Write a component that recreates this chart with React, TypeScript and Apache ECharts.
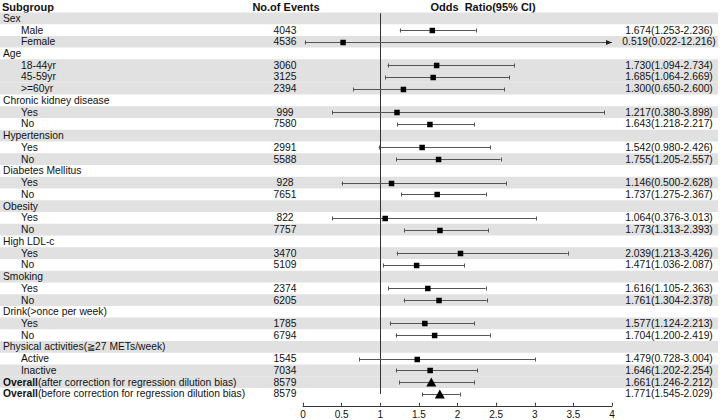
import React, { useEffect, useRef } from "react";
import * as echarts from "echarts";

// ---------- data ----------
const subgroups: string[] = [
  "Sex", "Male", "Female",
  "Age", "18-44yr", "45-59yr", ">=60yr",
  "Chronic kidney disease", "Yes", "No",
  "Hypertension", "Yes", "No",
  "Diabetes Mellitus", "Yes", "No",
  "Obesity", "Yes", "No",
  "High LDL-c", "Yes", "No",
  "Smoking", "Yes", "No",
  "Drink(>once per week)", "Yes", "No",
  "Physical activities(≧27 METs/week)", "Active", "Inactive",
  "(after correction for regression dilution bias)",
  "(before correction for regression dilution bias)",
];
const boldPrefix: string[] = [
  "", "", "", "", "", "", "", "", "", "", "", "", "", "", "", "", "",
  "", "", "", "", "", "", "", "", "", "", "", "", "", "", "Overall", "Overall",
];
const isSubItem: boolean[] = [
  false, true, true,
  false, true, true, true,
  false, true, true,
  false, true, true,
  false, true, true,
  false, true, true,
  false, true, true,
  false, true, true,
  false, true, true,
  false, true, true,
  false, false,
];
const events: (number | null)[] = [
  null, 4043, 4536,
  null, 3060, 3125, 2394,
  null, 999, 7580,
  null, 2991, 5588,
  null, 928, 7651,
  null, 822, 7757,
  null, 3470, 5109,
  null, 2374, 6205,
  null, 1785, 6794,
  null, 1545, 7034,
  8579, 8579,
];
const oddsRatio: (number | null)[] = [
  null, 1.674, 0.519,
  null, 1.730, 1.685, 1.300,
  null, 1.217, 1.643,
  null, 1.542, 1.755,
  null, 1.146, 1.737,
  null, 1.064, 1.773,
  null, 2.039, 1.471,
  null, 1.616, 1.761,
  null, 1.577, 1.704,
  null, 1.479, 1.646,
  1.661, 1.771,
];
const ciLower: (number | null)[] = [
  null, 1.253, 0.022,
  null, 1.094, 1.064, 0.650,
  null, 0.380, 1.218,
  null, 0.980, 1.205,
  null, 0.500, 1.275,
  null, 0.376, 1.313,
  null, 1.213, 1.036,
  null, 1.105, 1.304,
  null, 1.124, 1.200,
  null, 0.728, 1.202,
  1.246, 1.545,
];
const ciUpper: (number | null)[] = [
  null, 2.236, 12.216,
  null, 2.734, 2.669, 2.600,
  null, 3.898, 2.217,
  null, 2.426, 2.557,
  null, 2.628, 2.367,
  null, 3.013, 2.393,
  null, 3.426, 2.087,
  null, 2.363, 2.378,
  null, 2.213, 2.419,
  null, 3.004, 2.254,
  2.212, 2.029,
];
const markerShape: string[] = subgroups.map((_, i) => (i >= 31 ? "triangle" : "square"));
const shadedRows: number[] = [0, 2, 4, 5, 6, 8, 10, 12, 14, 16, 18, 20, 22, 24, 26, 28, 30, 31];
const xMin = 0;
const xMax = 4;
const xInterval = 0.5;
const headers = { subgroup: "Subgroup", events: "No.of Events", or: "Odds  Ratio(95% CI)" };

// ---------- styles ----------
const FONT = '"Liberation Sans", Arial, Helvetica, sans-serif';
const ROW_FS = 10.3;
const TEXT_COLOR = "#111";
const BAND_COLOR = "#e1e1e1";
const CI_COLOR = "#555";

const fmt = (v: number) => v.toFixed(3);

export default function App() {
  const ref = useRef<HTMLDivElement>(null);

  useEffect(() => {
    if (!ref.current) return;
    const chart = echarts.init(ref.current, undefined, { renderer: "svg" });

    const rowIdx = subgroups.map((_, i) => i);
    const ciRows = rowIdx.filter((i) => oddsRatio[i] !== null);

    const option: any = {
      animation: false,
      backgroundColor: "#fff",
      grid: { left: 303, right: 110, top: 12.4, bottom: 20.2, containLabel: false },
      xAxis: {
        type: "value",
        min: xMin,
        max: xMax,
        interval: xInterval,
        offset: 6,
        splitLine: { show: false },
        axisLine: { show: true, onZero: false, lineStyle: { color: "#333", width: 1 } },
        axisTick: { show: true, inside: true, length: 3, lineStyle: { color: "#333" } },
        axisLabel: { fontSize: 10, color: "#111", fontFamily: FONT, margin: 4 },
      },
      yAxis: {
        type: "category",
        inverse: true,
        data: rowIdx.map(String),
        show: false,
      },
      graphic: [
        {
          type: "text",
          left: 2,
          top: 1,
          style: { text: headers.subgroup, fontSize: 11, fontWeight: "bold", fontFamily: FONT, fill: TEXT_COLOR },
        },
        {
          type: "text",
          x: 286,
          y: 7,
          style: {
            text: headers.events, fontSize: 11, fontWeight: "bold", fontFamily: FONT, fill: TEXT_COLOR,
            align: "center", verticalAlign: "middle",
          },
        },
        {
          type: "text",
          x: 483,
          y: 7,
          style: {
            text: headers.or, fontSize: 11, fontWeight: "bold", fontFamily: FONT, fill: TEXT_COLOR,
            align: "center", verticalAlign: "middle",
          },
        },
      ],
      series: [
        // shaded bands
        {
          type: "custom",
          z: 0,
          clip: false,
          silent: true,
          data: shadedRows.map((r) => [0, r]),
          renderItem: (params: any, api: any) => {
            const c = api.coord([0, api.value(1)]);
            const h = api.size([0, 1])[1];
            return {
              type: "rect",
              shape: { x: 0, y: c[1] - h / 2, width: 718, height: h },
              style: { fill: BAND_COLOR },
            };
          },
        },
        // reference line at OR = 1
        {
          type: "custom",
          z: 2,
          clip: false,
          silent: true,
          data: [[1, 0, subgroups.length - 1]],
          renderItem: (params: any, api: any) => {
            const top = api.coord([api.value(0), api.value(1)]);
            const bot = api.coord([api.value(0), api.value(2)]);
            const x = Math.round(top[0]) + 0.5;
            return {
              type: "line",
              shape: { x1: x, y1: top[1] - 5, x2: x, y2: bot[1] },
              style: { stroke: "#333", lineWidth: 1 },
            };
          },
        },
        // texts
        {
          type: "custom",
          z: 3,
          clip: false,
          silent: true,
          data: rowIdx.map((i) => [0, i]),
          renderItem: (params: any, api: any) => {
            const i = params.dataIndex;
            const y = api.coord([0, api.value(1)])[1];
            const base = { fontSize: ROW_FS, fontFamily: FONT, fill: TEXT_COLOR, verticalAlign: "middle" };
            const children: any[] = [];
            const labelText = boldPrefix[i] ? `{b|${boldPrefix[i]}}${subgroups[i]}` : subgroups[i];
            children.push({
              type: "text",
              style: {
                ...base,
                text: labelText,
                x: isSubItem[i] ? 21 : 3,
                y,
                align: "left",
                rich: { b: { fontWeight: "bold", fontSize: ROW_FS, fontFamily: FONT, fill: TEXT_COLOR } },
              },
            });
            if (events[i] !== null) {
              children.push({
                type: "text",
                style: { ...base, text: String(events[i]), x: 285, y, align: "center" },
              });
            }
            if (oddsRatio[i] !== null) {
              children.push({
                type: "text",
                style: {
                  ...base,
                  text: `${fmt(oddsRatio[i] as number)}(${fmt(ciLower[i] as number)}-${fmt(ciUpper[i] as number)})`,
                  x: 669,
                  y,
                  align: "center",
                },
              });
            }
            return { type: "group", children };
          },
        },
        // confidence intervals and markers
        {
          type: "custom",
          z: 4,
          clip: false,
          silent: true,
          data: ciRows.map((r) => [oddsRatio[r], r, ciLower[r], Math.min(ciUpper[r] as number, xMax), ciUpper[r]]),
          renderItem: (params: any, api: any) => {
            const row = api.value(1);
            const pM = api.coord([api.value(0), row]);
            const pLo = api.coord([api.value(2), row]);
            const pHi = api.coord([api.value(3), row]);
            const clipped = api.value(4) > xMax;
            const y = Math.round(pM[1]) + 0.5;
            const children: any[] = [];
            children.push({
              type: "line",
              shape: { x1: pLo[0], y1: y, x2: pHi[0], y2: y },
              style: { stroke: CI_COLOR, lineWidth: 1 },
            });
            children.push({
              type: "line",
              shape: { x1: Math.round(pLo[0]) + 0.5, y1: y - 2, x2: Math.round(pLo[0]) + 0.5, y2: y + 2 },
              style: { stroke: CI_COLOR, lineWidth: 1 },
            });
            if (clipped) {
              children.push({
                type: "polygon",
                shape: { points: [[pHi[0] - 6, y - 2.5], [pHi[0], y], [pHi[0] - 6, y + 2.5]] },
                style: { fill: "#222" },
              });
            } else {
              children.push({
                type: "line",
                shape: { x1: Math.round(pHi[0]) + 0.5, y1: y - 2, x2: Math.round(pHi[0]) + 0.5, y2: y + 2 },
                style: { stroke: CI_COLOR, lineWidth: 1 },
              });
            }
            const shape = markerShape[row];
            if (shape === "triangle") {
              children.push({
                type: "polygon",
                shape: { points: [[pM[0], y - 5], [pM[0] + 5, y + 4], [pM[0] - 5, y + 4]] },
                style: { fill: "#000" },
              });
            } else {
              const s = 5.5;
              children.push({
                type: "rect",
                shape: { x: pM[0] - s / 2, y: y - s / 2, width: s, height: s },
                style: { fill: "#000" },
              });
            }
            return { type: "group", children };
          },
        },
      ],
    };

    chart.setOption(option);
    return () => chart.dispose();
  }, []);

  return (
    <div
      ref={ref}
      style={{ position: "fixed", left: 0, top: 0, width: 722, height: 420, background: "#fff" }}
    />
  );
}
